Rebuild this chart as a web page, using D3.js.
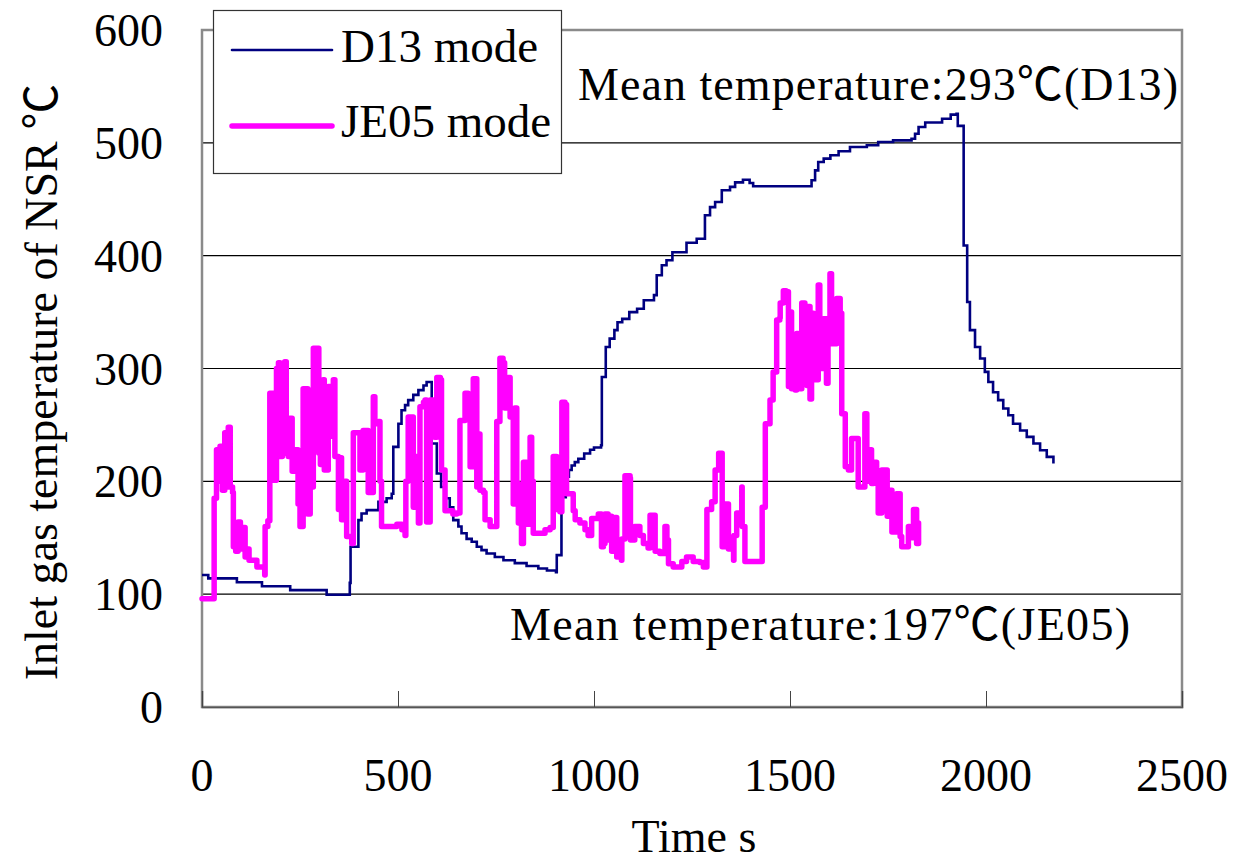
<!DOCTYPE html>
<html>
<head>
<meta charset="utf-8">
<script src="https://cdn.jsdelivr.net/npm/d3@7"></script>
<style>
  html, body { margin: 0; padding: 0; background: #fff; }
  svg { display: block; }
  text { font-family: "Liberation Serif", "Times New Roman", "Noto Sans CJK JP", serif; fill: #000; }
</style>
</head>
<body>
<svg id="chart" width="1234" height="861"></svg>
<script>
// ---------------- data ----------------
const xTicks = [0, 500, 1000, 1500, 2000, 2500];
const yTicks = [0, 100, 200, 300, 400, 500, 600];
const seriesNames = ["D13 mode", "JE05 mode"];
const meanLabels = ["Mean temperature:293\u2103(D13)", "Mean temperature:197\u2103(JE05)"];
const xTitle = "Time s";
const yTitle = "Inlet gas temperature of NSR \u2103";

// D13 mode: [time s, temperature °C]
const d13 = [
  [0,117],[15,117],[16,114],[88,114],[89,110.5],[152,110.5],[153,107],[224,107],[225,103.6],
  [316,103.6],[318,99.5],[375,99.5],[377,110],[379,142],[390,142],[399,165.6],[407,171.5],
  [420,174.5],[450,181.8],[471,185],[484,189],[488,230.5],[501,251],[509,263],[518,267.5],
  [526,272],[539,276.6],[552,280.8],[565,285],[573,288],[584,288],[586,233.5],[599,207],
  [610,195],[620,185],[632,177],[641,165.6],[654,160],[662,154],[675,149],[688,146.4],
  [701,142],[713,139],[726,136],[747,133],[769,130],[798,127.5],[828,125],[858,122.8],
  [880,121],[903,119.5],[905,134.6],[917,186],[928,204],[936,210],[943,214],[951,217],
  [960,220],[975,224.7],[990,228],[1000,230],[1018,232],[1020,292.5],[1030,319],[1040,326.5],
  [1052,334],[1060,341],[1072,344],[1090,350],[1110,353],[1127,360.5],[1153,365],[1160,382.6],
  [1173,391.5],[1185,396],[1200,403],[1236,411.5],[1262,415],[1283,435.8],[1296,443],
  [1309,447.6],[1326,458],[1347,461],[1360,465],[1380,467.3],[1397,464.4],[1406,461.5],
  [1546,461.5],[1555,466.8],[1564,475.6],[1572,483],[1586,486],[1603,489],[1624,492.5],
  [1653,496.3],[1696,497.8],[1725,500.7],[1763,502.2],[1810,503.6],[1819,508],[1828,514],
  [1845,518],[1888,521.4],[1910,525],[1925,525.8],[1928,515],[1940,515],[1943,409],[1950,409],
  [1952,359],[1959,334],[1972,319],[1985,308.8],[1997,297],[2006,288],[2018,279],[2031,272],
  [2044,264.6],[2057,258.6],[2069,251],[2087,245],[2104,239.4],[2121,233.5],[2138,227.6],
  [2155,221.7],[2172,215.8]
];

// JE05 mode: [time s, temperature °C]
const je05 = [
  [0,96],[30,96],[31,185],[36,185],[37,228],[42,200],[46,231],[52,192],[58,243],[63,195],
  [67,248],[72,195],[78,190],[80,142],[86,138],[92,164],[98,140],[105,159],[110,133],[115,140],
  [120,130],[140,124],[160,117],[161,160],[168,165],[173,278],[180,278],[183,201],[190,300],
  [195,305],[199,222],[205,230],[211,306],[215,225],[220,222],[224,256],[230,209],[235,228],
  [240,228],[245,180],[250,160],[258,282],[265,282],[270,171],[276,195],[284,318],[292,318],
  [298,225],[302,215],[309,290],[312,210],[322,284],[329,240],[335,290],[339,222],[348,175],
  [352,221],[356,166],[365,200],[369,151],[382,145],[386,243],[399,243],[403,210],[411,245],
  [420,245],[424,190],[432,190],[437,275],[441,251],[450,253],[454,200],[458,160],[497,162],
  [510,157],[518,152],[520,200],[526,257],[535,257],[539,177],[543,222],[552,163],[556,266],
  [565,270],[569,272],[573,164],[582,272],[590,270],[594,239],[599,292],[608,290],[611,210],
  [620,174],[628,174],[640,171],[650,172],[658,254],[666,254],[671,278],[679,276],[684,213],
  [692,291],[697,291],[701,195],[705,242],[709,192],[718,190],[722,166],[735,160],[747,160],
  [752,253],[760,309],[768,305],[772,265],[781,292],[786,257],[794,180],[798,265],[803,198],
  [807,163],[815,145],[820,217],[828,162],[837,239],[841,200],[845,154],[862,154],[875,157],
  [888,159],[896,222],[905,175],[913,173],[918,270],[926,268],[930,189],[939,189],[947,174],
  [952,166],[964,163],[977,157],[985,152],[994,167],[1007,167],[1011,171],[1019,142],[1024,145],
  [1028,171],[1036,148],[1041,169],[1045,138],[1053,168],[1058,133],[1070,130],[1071,149],
  [1079,205],[1092,203],[1093,148],[1104,160],[1117,152],[1126,145],[1138,141],[1143,170],
  [1155,170],[1156,138],[1168,136],[1181,160],[1186,148],[1190,127],[1202,124],[1219,124],
  [1224,129],[1236,133],[1253,129],[1270,128],[1279,124],[1288,175],[1300,182],[1309,210],
  [1318,225],[1326,225],[1327,142],[1334,180],[1343,140],[1356,130],[1357,152],[1364,172],
  [1370,165],[1377,195],[1378,160],[1385,129],[1428,129],[1429,177],[1436,177],[1437,251],
  [1445,251],[1449,272],[1457,297],[1466,343],[1474,345],[1475,358],[1483,369],[1490,368],
  [1496,284],[1500,350],[1504,282],[1513,281],[1517,331],[1521,282],[1530,358],[1538,355],
  [1543,285],[1547,355],[1551,273],[1555,349],[1560,290],[1572,374],[1576,300],[1585,344],
  [1593,287],[1597,340],[1602,384],[1606,322],[1615,322],[1619,362],[1628,349],[1632,260],
  [1640,260],[1641,213],[1649,210],[1657,238],[1670,238],[1674,195],[1683,195],[1691,260],
  [1696,200],[1704,228],[1708,198],[1713,217],[1721,201],[1725,172],[1734,210],[1747,210],
  [1748,169],[1755,192],[1760,155],[1765,155],[1772,189],[1776,189],[1781,151],[1785,142],
  [1798,142],[1802,160],[1806,150],[1815,175],[1819,175],[1823,145],[1827,163],[1828,145]
];

// ---------------- drawing ----------------
const svg = d3.select("#chart");
const plot = { left: 202, right: 1182, top: 30, bottom: 707 };

const x = d3.scaleLinear().domain([0, 2500]).range([plot.left, plot.right]);
const y = d3.scaleLinear().domain([0, 600]).range([plot.bottom, plot.top]);

// gridlines
svg.append("g")
  .selectAll("line")
  .data(yTicks.filter(d => d > 0 && d < 600))
  .join("line")
  .attr("x1", plot.left).attr("x2", plot.right)
  .attr("y1", d => y(d)).attr("y2", d => y(d))
  .attr("stroke", "#000").attr("stroke-width", 1.2);

// frame
svg.append("rect")
  .attr("x", plot.left).attr("y", plot.top)
  .attr("width", plot.right - plot.left).attr("height", plot.bottom - plot.top)
  .attr("fill", "none").attr("stroke", "#8a8a8a").attr("stroke-width", 2.5);

// x axis (ticks pointing inward)
const xAxis = d3.axisTop(x).tickValues(xTicks).tickSize(16).tickFormat("");
const gx = svg.append("g").attr("transform", `translate(0,${plot.bottom})`).call(xAxis);
gx.select(".domain").attr("stroke", "#555").attr("stroke-width", 1.5);
gx.selectAll(".tick line").attr("stroke", "#444").attr("stroke-width", 1);

// x tick labels
svg.append("g")
  .selectAll("text")
  .data(xTicks)
  .join("text")
  .attr("x", d => x(d)).attr("y", 791)
  .attr("text-anchor", "middle")
  .attr("font-size", 46)
  .text(d => d);

// y tick labels
svg.append("g")
  .selectAll("text")
  .data(yTicks)
  .join("text")
  .attr("x", 163).attr("y", d => y(d) + 16)
  .attr("text-anchor", "end")
  .attr("font-size", 46)
  .text(d => d);

// axis titles
svg.append("text")
  .attr("x", 694).attr("y", 852)
  .attr("text-anchor", "middle")
  .attr("font-size", 46)
  .text(xTitle);

svg.append("text")
  .attr("transform", "translate(57,382) rotate(-90)")
  .attr("text-anchor", "middle")
  .attr("font-size", 46)
  .text(yTitle);

// series (stepped, as sampled)
const line = d3.line().curve(d3.curveStepAfter).x(d => x(d[0])).y(d => y(d[1]));

svg.append("path")
  .datum(d13)
  .attr("d", line)
  .attr("fill", "none")
  .attr("stroke", "#000080")
  .attr("stroke-width", 2.6)
  .attr("stroke-linejoin", "miter");

svg.append("path")
  .datum(je05)
  .attr("d", line)
  .attr("fill", "none")
  .attr("stroke", "#ff00ff")
  .attr("stroke-width", 5.5)
  .attr("stroke-linejoin", "round")
  .attr("stroke-linecap", "round");

// mean temperature annotations
svg.append("text")
  .attr("x", 578).attr("y", 100)
  .attr("font-size", 46)
  .attr("textLength", 600)
  .attr("lengthAdjust", "spacing")
  .text(meanLabels[0]);

svg.append("text")
  .attr("x", 510).attr("y", 640)
  .attr("font-size", 46)
  .attr("textLength", 620)
  .attr("lengthAdjust", "spacing")
  .text(meanLabels[1]);

// legend
const lg = svg.append("g");
lg.append("rect")
  .attr("x", 213.5).attr("y", 10.5)
  .attr("width", 348).attr("height", 163)
  .attr("fill", "#fff").attr("stroke", "#333").attr("stroke-width", 1.2);

const legendItems = [
  { name: seriesNames[0], color: "#000080", width: 2.6, cy: 50, ty: 62 },
  { name: seriesNames[1], color: "#ff00ff", width: 5.5, cy: 126, ty: 137 }
];
legendItems.forEach(it => {
  lg.append("line")
    .attr("x1", 232).attr("x2", 332)
    .attr("y1", it.cy).attr("y2", it.cy)
    .attr("stroke", it.color).attr("stroke-width", it.width)
    .attr("stroke-linecap", "round");
  lg.append("text")
    .attr("x", 341).attr("y", it.ty)
    .attr("font-size", 47)
    .text(it.name);
});
</script>
</body>
</html>
